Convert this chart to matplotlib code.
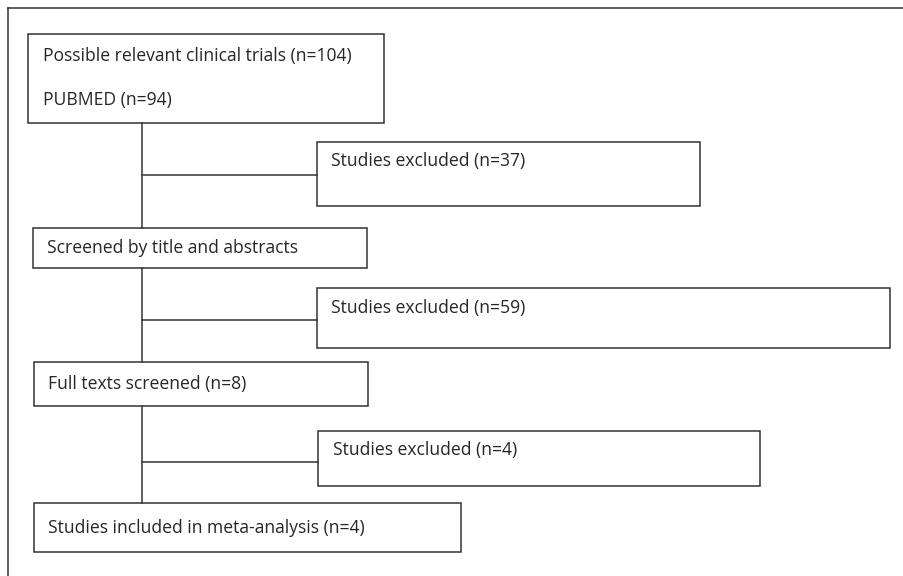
import matplotlib
matplotlib.use("Agg")
import matplotlib.pyplot as plt
from matplotlib.patches import Rectangle

# ---- content ----
main_labels = [
    ["Possible relevant clinical trials (n=104)", "PUBMED (n=94)"],
    ["Screened by title and abstracts"],
    ["Full texts screened (n=8)"],
    ["Studies included in meta-analysis (n=4)"],
]
excluded_labels = [
    "Studies excluded (n=37)",
    "Studies excluded (n=59)",
    "Studies excluded (n=4)",
]

# ---- layout (pixel coordinates: x0, y0, x1, y1) ----
main_boxes = [(28, 34, 384, 123), (33, 228, 367, 268), (34, 362, 368, 406), (34, 503, 461, 552)]
main_text_y = [[56, 100], [248], [384], [528]]
main_text_x = [43, 47, 48, 48]
excl_boxes = [(317, 142, 700, 206), (317, 288, 890, 348), (318, 431, 760, 486)]
excl_text_y = [161, 308, 450]
excl_text_x = [331, 331, 333]
branch_y = [175, 320, 462]
spine_x = 142
target_width_px = 309  # width of first label in reference

W, H = 904, 576
fig = plt.figure(figsize=(W / 100, H / 100), dpi=100)
ax = fig.add_axes([0, 0, 1, 1])
ax.set_xlim(0, W)
ax.set_ylim(H, 0)
ax.axis("off")

fam = ["Open Sans", "DejaVu Sans"]
# fit font size to the reference text width
probe = ax.text(0, 0, main_labels[0][0], family=fam, fontsize=10)
fig.canvas.draw()
w = probe.get_window_extent().width
probe.remove()
fs = 10 * target_width_px / w

lc = "#333333"
lw = 1.1
font = dict(family=fam, fontsize=fs, color="#262626", va="center", ha="left")

# outer frame (top and left)
ax.plot([8, W], [8, 8], color=lc, lw=lw)
ax.plot([8, 8], [8, H], color=lc, lw=lw)

for (x0, y0, x1, y1), labels, ys, tx in zip(main_boxes, main_labels, main_text_y, main_text_x):
    ax.add_patch(Rectangle((x0, y0), x1 - x0, y1 - y0, fill=False, ec=lc, lw=lw))
    for lab, ty in zip(labels, ys):
        ax.text(tx, ty, lab, **font)

for (x0, y0, x1, y1), lab, ty, tx in zip(excl_boxes, excluded_labels, excl_text_y, excl_text_x):
    ax.add_patch(Rectangle((x0, y0), x1 - x0, y1 - y0, fill=False, ec=lc, lw=lw))
    ax.text(tx, ty, lab, **font)

# connectors
for i in range(len(main_boxes) - 1):
    ytop = main_boxes[i][3]
    ybot = main_boxes[i + 1][1]
    ax.plot([spine_x, spine_x], [ytop, ybot], color=lc, lw=lw)
    ex = excl_boxes[i]
    ax.plot([spine_x, ex[0]], [branch_y[i], branch_y[i]], color=lc, lw=lw)

fig.savefig("out.png", dpi=100, facecolor="white")
